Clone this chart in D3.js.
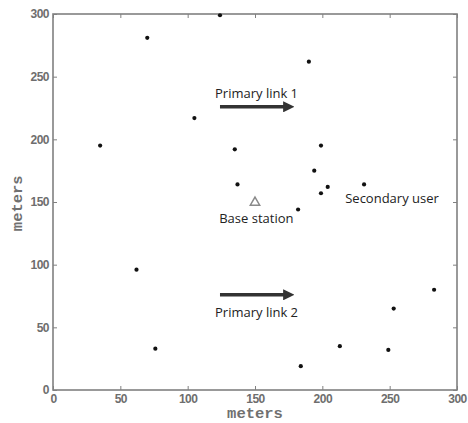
<!DOCTYPE html>
<html>
<head>
<meta charset="utf-8">
<script src="https://cdn.jsdelivr.net/npm/d3@7"></script>
<style>
  body { margin: 0; background: #fff; }
  .tick-label { font-family: "Liberation Sans", Arial, sans-serif; font-weight: bold; font-size: 12px; fill: #6e6e6e; letter-spacing: -0.5px; }
  .axis-title { font-family: "Liberation Mono", "DejaVu Sans Mono", monospace; font-weight: bold; font-size: 15.5px; fill: #707070; }
  .note { font-family: "Open Sans", sans-serif; font-size: 13px; fill: #222; }
</style>
</head>
<body>
<div id="chart"></div>
<script>
'use strict';

//user positions (meters)
var userX = [124, 70, 190, 105, 35, 135, 199, 194, 137, 204, 231, 199, 182, 62, 283, 253, 76, 213, 249, 184];
var userY = [299, 281, 262, 217, 195, 192, 195, 175, 164, 162, 164, 157, 144, 96, 80, 65, 33, 35, 32, 19];

//base station
var baseStation = [150, 150];

//annotations
var linkLabels = ['Primary link 1', 'Primary link 2'];
var linkFrom = [[124, 226], [124, 76]];
var linkTo = [[178, 226], [178, 76]];
var secondaryLabel = { text: 'Secondary user', at: [217, 149] };
var baseLabel = { text: 'Base station', at: [151, 133.5] };

var ticks = [0, 50, 100, 150, 200, 250, 300];

var dim = { w: 468, h: 423 };
var margin = { left: 53, right: 11, top: 14, bottom: 33 };

var svg = d3.select('#chart').append('svg')
    .attr('width', dim.w)
    .attr('height', dim.h);

var x = d3.scaleLinear().domain([0, 300]).range([margin.left, dim.w - margin.right]);
var y = d3.scaleLinear().domain([0, 300]).range([dim.h - margin.bottom, margin.top]);

//arrow marker
svg.append('defs').append('marker')
    .attr('id', 'arrow')
    .attr('viewBox', '0 0 10 10')
    .attr('refX', 5).attr('refY', 5)
    .attr('markerWidth', 3.2).attr('markerHeight', 3.2)
    .attr('orient', 'auto')
    .append('path')
    .attr('d', 'M0,0 L10,5 L0,10 z')
    .style('fill', '#333');

//axes - ticks point inward on all four sides
function styleAxis(g) {
    g.select('.domain').remove();
    g.selectAll('line').style('stroke', '#808080').style('stroke-width', 1);
    g.selectAll('text').attr('class', 'tick-label');
}

svg.append('g')
    .attr('transform', 'translate(0,' + y(0) + ')')
    .call(d3.axisBottom(x).tickValues(ticks).tickSizeInner(-4).tickSizeOuter(0).tickPadding(4))
    .call(styleAxis);

svg.append('g')
    .attr('transform', 'translate(' + x(0) + ',0)')
    .call(d3.axisLeft(y).tickValues(ticks).tickSizeInner(-4).tickSizeOuter(0).tickPadding(4))
    .call(styleAxis);

svg.append('g')
    .attr('transform', 'translate(0,' + y(300) + ')')
    .call(d3.axisTop(x).tickValues(ticks).tickSizeInner(-4).tickSizeOuter(0).tickFormat(''))
    .call(styleAxis);

svg.append('g')
    .attr('transform', 'translate(' + x(300) + ',0)')
    .call(d3.axisRight(y).tickValues(ticks).tickSizeInner(-4).tickSizeOuter(0).tickFormat(''))
    .call(styleAxis);

//frame
svg.append('rect')
    .attr('x', x(0)).attr('y', y(300))
    .attr('width', x(300) - x(0)).attr('height', y(0) - y(300))
    .style('fill', 'none')
    .style('stroke', '#808080')
    .style('stroke-width', 1.6);

//axis titles
svg.append('text')
    .attr('class', 'axis-title')
    .attr('x', x(150)).attr('y', dim.h - 5)
    .attr('text-anchor', 'middle')
    .text('meters');

svg.append('text')
    .attr('class', 'axis-title')
    .attr('transform', 'translate(22,' + y(149) + ') rotate(-90)')
    .attr('text-anchor', 'middle')
    .text('meters');

//users
svg.selectAll('.user')
    .data(d3.range(userX.length))
    .enter()
    .append('circle')
    .attr('class', 'user')
    .attr('cx', function (i) { return x(userX[i]); })
    .attr('cy', function (i) { return y(userY[i]); })
    .attr('r', 2.1)
    .style('fill', '#111');

//base station triangle
svg.append('path')
    .attr('d', d3.symbol().type(d3.symbolTriangle).size(38))
    .attr('transform', 'translate(' + x(baseStation[0]) + ',' + (y(baseStation[1]) + 0.5) + ')')
    .style('fill', 'none')
    .style('stroke', '#8a8a8a')
    .style('stroke-width', 1.5);

//primary links
linkLabels.forEach(function (label, i) {
    svg.append('line')
        .attr('x1', x(linkFrom[i][0])).attr('y1', y(linkFrom[i][1]))
        .attr('x2', x(linkTo[i][0]) - 4).attr('y2', y(linkTo[i][1]))
        .style('stroke', '#333')
        .style('stroke-width', 3.5)
        .attr('marker-end', 'url(#arrow)');
});

svg.append('text').attr('class', 'note')
    .attr('x', 215).attr('y', 98)
    .text(linkLabels[0]);

svg.append('text').attr('class', 'note')
    .attr('x', 215).attr('y', 317)
    .text(linkLabels[1]);

svg.append('text').attr('class', 'note')
    .attr('x', x(secondaryLabel.at[0])).attr('y', y(secondaryLabel.at[1]))
    .text(secondaryLabel.text);

svg.append('text').attr('class', 'note')
    .attr('x', x(baseLabel.at[0])).attr('y', y(baseLabel.at[1]))
    .attr('text-anchor', 'middle')
    .text(baseLabel.text);
</script>
</body>
</html>
